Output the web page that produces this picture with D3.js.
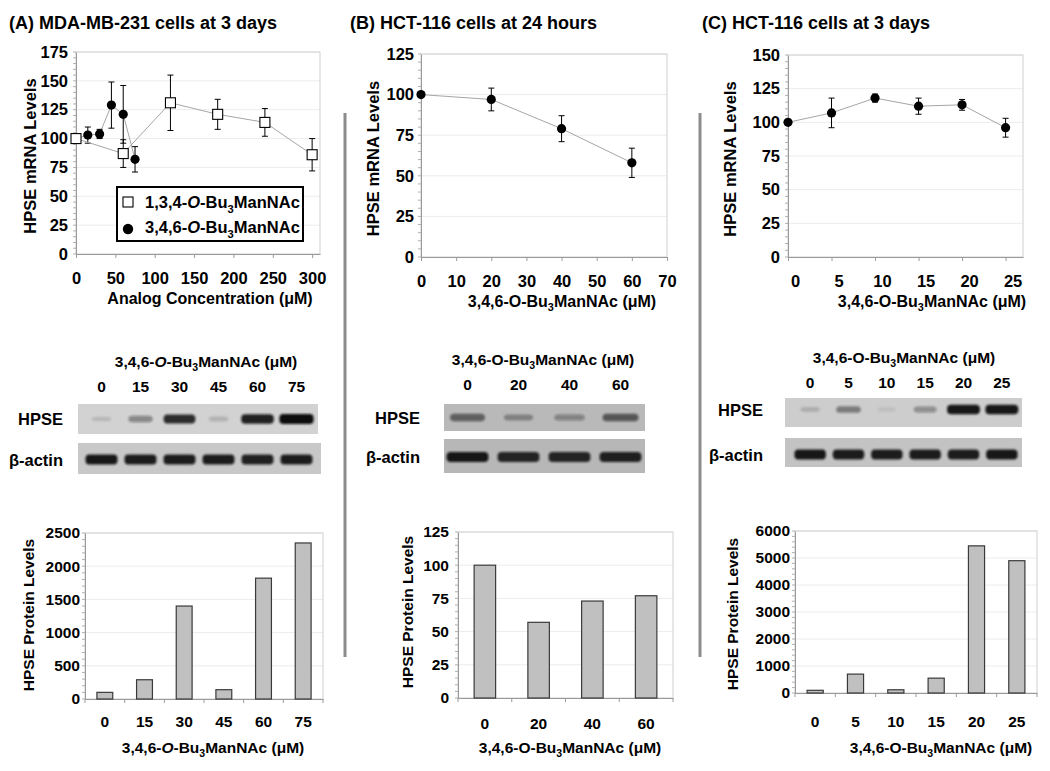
<!DOCTYPE html>
<html><head><meta charset="utf-8">
<script src="https://cdn.jsdelivr.net/npm/d3@7"></script>
<style>
body{margin:0;background:#fff}
text{font-family:"Liberation Sans",Arial,Helvetica,sans-serif;font-weight:bold;fill:#000}
</style>
</head><body>
<svg id="c" width="1050" height="771"></svg>
<script>
// ---------------- DATA ----------------
// (A) mRNA, 1,3,4-O-Bu3ManNAc
const mrnaA134_x = [0, 60, 120, 180, 240, 300];
const mrnaA134_y = [100, 87, 131, 121, 114, 86];
const mrnaA134_err = [0, 12, 24, 13, 12, 14];
// (A) mRNA, 3,4,6-O-Bu3ManNAc
const mrnaA346_x = [0, 15, 30, 45, 60, 75];
const mrnaA346_y = [100, 103, 104, 129, 121, 82];
const mrnaA346_err = [0, 7, 4, 20, 25, 11];
// (B) mRNA
const mrnaB_x = [0, 20, 40, 60];
const mrnaB_y = [100, 97, 79, 58];
const mrnaB_err = [0, 7, 8, 9];
// (C) mRNA
const mrnaC_x = [0, 5, 10, 15, 20, 25];
const mrnaC_y = [100, 107, 118, 112, 113, 96];
const mrnaC_err = [0, 11, 3, 6, 4, 7];

// protein bar charts
const protA_cat = ["0", "15", "30", "45", "60", "75"];
const protA_val = [100, 290, 1400, 140, 1820, 2350];
const protB_cat = ["0", "20", "40", "60"];
const protB_val = [100, 57, 73, 77];
const protC_cat = ["0", "5", "10", "15", "20", "25"];
const protC_val = [100, 700, 120, 550, 5450, 4900];

// western blot band intensities (0..1)
const blotA_hpse = [0.12, 0.4, 0.85, 0.15, 0.9, 1.0];
const blotA_actin = [0.95, 0.92, 0.92, 0.92, 0.9, 0.92];
const blotB_hpse = [0.55, 0.3, 0.35, 0.6];
const blotB_actin = [0.95, 0.88, 0.88, 0.9];
const blotC_hpse = [0.15, 0.45, 0.07, 0.35, 0.95, 0.95];
const blotC_actin = [0.95, 0.92, 0.92, 0.92, 0.92, 0.95];

// tick values
const ticksA_x = [0, 50, 100, 150, 200, 250, 300];
const ticksA_y = [0, 25, 50, 75, 100, 125, 150, 175];
const ticksB_x = [0, 10, 20, 30, 40, 50, 60, 70];
const ticksB_y = [0, 25, 50, 75, 100, 125];
const ticksC_x = [0, 5, 10, 15, 20, 25];
const ticksC_y = [0, 25, 50, 75, 100, 125, 150];
const ticksPA_y = [0, 500, 1000, 1500, 2000, 2500];
const ticksPB_y = [0, 25, 50, 75, 100, 125];
const ticksPC_y = [0, 1000, 2000, 3000, 4000, 5000, 6000];

// ---------------- DRAWING ----------------
const svg = d3.select("#c");
const defs = svg.append("defs");
defs.append("filter").attr("id", "blur").attr("x", "-30%").attr("y", "-60%").attr("width", "160%").attr("height", "220%")
  .append("feGaussianBlur").attr("stdDeviation", 1.3);

function bu3(t, fs, prefix, italicO, suffix) {
  t.append("tspan").text(prefix);
  t.append("tspan").attr("font-style", italicO ? "italic" : null).text("O");
  t.append("tspan").text("-Bu");
  t.append("tspan").attr("dy", fs * 0.28).attr("font-size", fs * 0.68).text("3");
  t.append("tspan").attr("dy", -fs * 0.28).text("ManNAc" + suffix);
}

function title(x, y, s) {
  svg.append("text").attr("x", x).attr("y", y).attr("font-size", 18).text(s);
}

function rotTitle(cx, cy, fs, s) {
  svg.append("text").attr("transform", `translate(${cx},${cy}) rotate(-90)`)
    .attr("text-anchor", "middle").attr("dy", "0.35em").attr("font-size", fs).text(s);
}

function scatterPanel(c) {
  const x = d3.scaleLinear(c.xDom, [c.x0, c.x1]);
  const y = d3.scaleLinear(c.yDom, [c.y1, c.y0]);
  const g = svg.append("g");
  g.selectAll(".grid").data(c.yTicks.filter(d => d > c.yDom[0])).join("line")
    .attr("x1", c.x0).attr("x2", c.x1).attr("y1", d => y(d)).attr("y2", d => y(d))
    .attr("stroke", "#ececec");
  g.append("rect").attr("x", c.x0).attr("y", c.y0).attr("width", c.x1 - c.x0).attr("height", c.y1 - c.y0)
    .attr("fill", "none").attr("stroke", "#cfcfcf");
  g.selectAll(".minor").data(d3.range(c.yDom[0], c.yDom[1] + 0.001, c.minor)).join("line")
    .attr("x1", c.x0 - 3).attr("x2", c.x0).attr("y1", d => y(d)).attr("y2", d => y(d))
    .attr("stroke", "#b0b0b0");
  const ya = g.append("g").attr("transform", `translate(${c.x0},0)`)
    .call(d3.axisLeft(y).tickValues(c.yTicks).tickSize(0).tickSizeOuter(0).tickPadding(c.yPad).tickFormat(d3.format("d")));
  ya.attr("font-size", 16.5).attr("font-family", null);
  ya.select(".domain").attr("stroke", "#9a9a9a");
  const xa = g.append("g").attr("transform", `translate(0,${c.y1})`)
    .call(d3.axisBottom(x).tickValues(c.xTicks).tickSize(4).tickSizeOuter(0).tickPadding(14).tickFormat(d3.format("d")));
  xa.attr("font-size", 16.5).attr("font-family", null);
  xa.select(".domain").attr("stroke", "#9a9a9a");
  xa.selectAll(".tick line").attr("stroke", "#9a9a9a");
  if (c.xLabDx) xa.selectAll("text").attr("dx", c.xLabDx);

  c.series.forEach(s => {
    const pts = s.x.map((d, i) => ({x: d, y: s.y[i], e: s.err[i]}));
    g.append("path").datum(pts).attr("fill", "none").attr("stroke", "#a6a6a6").attr("stroke-width", 1)
      .attr("d", d3.line().x(d => x(d.x)).y(d => y(d.y)));
    const eb = g.append("g").attr("stroke", "#000").attr("stroke-width", 1);
    pts.filter(d => d.e > 0).forEach(d => {
      eb.append("line").attr("x1", x(d.x)).attr("x2", x(d.x)).attr("y1", y(d.y - d.e)).attr("y2", y(d.y + d.e));
      [d.y - d.e, d.y + d.e].forEach(v => eb.append("line").attr("x1", x(d.x) - 3).attr("x2", x(d.x) + 3).attr("y1", y(v)).attr("y2", y(v)));
    });
    if (s.shape === "square") {
      g.selectAll(null).data(pts).join("rect")
        .attr("x", d => x(d.x) - 5).attr("y", d => y(d.y) - 5).attr("width", 10).attr("height", 10)
        .attr("fill", "#fff").attr("stroke", "#000").attr("stroke-width", 1.1);
    } else {
      g.selectAll(null).data(pts).join("circle")
        .attr("cx", d => x(d.x)).attr("cy", d => y(d.y)).attr("r", 4.6).attr("fill", "#000");
    }
  });
  rotTitle(c.yTitleX, (c.y0 + c.y1) / 2 + 3, 16.5, "HPSE mRNA Levels");
  const t = svg.append("text").attr("x", c.xTitleX).attr("y", c.y1 + 50).attr("text-anchor", "middle").attr("font-size", 16);
  if (c.xTitle) t.text(c.xTitle); else bu3(t, 16, "3,4,6-", false, " (μM)");
  return {x, y, g};
}

function barPanel(c) {
  const n = c.cats.length;
  const x = d3.scaleBand(c.cats, [c.x0, c.x1]).paddingInner(0.6).paddingOuter(0.3);
  const y = d3.scaleLinear(c.yDom, [c.y1, c.y0]);
  const g = svg.append("g");
  g.selectAll(".grid").data(c.yTicks.filter(d => d > 0)).join("line")
    .attr("x1", c.x0).attr("x2", c.x1).attr("y1", d => y(d)).attr("y2", d => y(d)).attr("stroke", "#ececec");
  g.append("rect").attr("x", c.x0).attr("y", c.y0).attr("width", c.x1 - c.x0).attr("height", c.y1 - c.y0)
    .attr("fill", "none").attr("stroke", "#cfcfcf");
  g.selectAll(".minor").data(d3.range(0, c.yDom[1] + 0.001, c.minor)).join("line")
    .attr("x1", c.x0 - 3).attr("x2", c.x0).attr("y1", d => y(d)).attr("y2", d => y(d)).attr("stroke", "#b0b0b0");
  const ya = g.append("g").attr("transform", `translate(${c.x0},0)`)
    .call(d3.axisLeft(y).tickValues(c.yTicks).tickSize(0).tickSizeOuter(0).tickPadding(c.yPad).tickFormat(d3.format("d")));
  ya.attr("font-size", 15.5).attr("font-family", null);
  ya.select(".domain").attr("stroke", "#9a9a9a");
  const xa = g.append("g").attr("transform", `translate(0,${c.y1})`)
    .call(d3.axisBottom(x).tickSize(0).tickSizeOuter(0).tickPadding(c.xPad));
  xa.attr("font-size", 15.5).attr("font-family", null);
  xa.select(".domain").attr("stroke", "#9a9a9a");
  g.selectAll(".btick").data(d3.range(n + 1)).join("line")
    .attr("x1", i => c.x0 + i * x.step()).attr("x2", i => c.x0 + i * x.step())
    .attr("y1", c.y1).attr("y2", c.y1 + 4).attr("stroke", "#9a9a9a");
  g.selectAll(".bar").data(c.vals).join("rect")
    .attr("x", (d, i) => x(c.cats[i])).attr("width", x.bandwidth())
    .attr("y", d => y(d)).attr("height", d => y(0) - y(d))
    .attr("fill", "#c0c0c0").attr("stroke", "#3a3a3a").attr("stroke-width", 1.2);
  rotTitle(c.yTitleX, c.yTitleY, 15.5, "HPSE Protein Levels");
  const t = svg.append("text").attr("x", c.xTitleX).attr("y", 753).attr("text-anchor", "middle").attr("font-size", 15.5);
  bu3(t, 15.5, "3,4,6-", c.italic, " (μM)");
}

function blotPanel(c) {
  const lane = d3.scaleBand(c.cats, [c.l0, c.l1]);
  const g = svg.append("g");
  const t = g.append("text").attr("x", c.titleX).attr("y", c.titleY).attr("text-anchor", "middle").attr("font-size", 15.5);
  bu3(t, 15.5, "3,4,6-", c.italic, " (μM)");
  g.selectAll(".lab").data(c.cats).join("text")
    .attr("x", d => lane(d) + lane.bandwidth() / 2).attr("y", c.titleY + 25)
    .attr("text-anchor", "middle").attr("font-size", 15.5).text(d => d);
  [[c.hp, c.hpse, c.bgH, "HPSE"], [c.ac, c.actin, c.bgA, "β-actin"]].forEach(([r, vals, bg, name], k) => {
    g.append("rect").attr("x", r[0]).attr("y", r[1]).attr("width", r[2] - r[0]).attr("height", r[3] - r[1]).attr("fill", bg);
    const cy = (r[1] + r[3]) / 2 + r[4];
    g.append("g").attr("filter", "url(#blur)").selectAll("rect").data(vals).join("rect")
      .attr("x", (d, i) => lane(c.cats[i]) + lane.bandwidth() / 2 - lane.bandwidth() * (k ? 0.41 : 0.22 + 0.22 * d))
      .attr("width", (d, i) => lane.bandwidth() * (k ? 0.82 : 0.44 + 0.44 * d))
      .attr("y", d => cy - (k ? 5 : 2 + 3 * d)).attr("height", d => k ? 10 : 4 + 6 * d)
      .attr("rx", 4).attr("fill", "#111").attr("opacity", d => d);
    g.append("text").attr("x", c.labRight).attr("y", cy + 6).attr("text-anchor", "end").attr("font-size", 16.5).text(name);
  });
}

// Titles
title(9, 29, "(A) MDA-MB-231 cells at 3 days");
title(350, 29, "(B) HCT-116 cells at 24 hours");
title(702, 29, "(C) HCT-116 cells at 3 days");

// Separators
svg.selectAll(".sep").data([345, 700]).join("line")
  .attr("x1", d => d).attr("x2", d => d).attr("y1", 113).attr("y2", 657)
  .attr("stroke", "#8c8c8c").attr("stroke-width", 3);

// (A) mRNA
scatterPanel({x0: 76, x1: 320, y0: 52, y1: 254, xDom: [0, 310], yDom: [0, 175],
  xTicks: ticksA_x, yTicks: ticksA_y, minor: 5, yPad: 8, yTitleX: 30, xTitleX: 210,
  xTitle: "Analog Concentration (μM)",
  series: [
    {x: mrnaA346_x, y: mrnaA346_y, err: mrnaA346_err, shape: "circle"},
    {x: mrnaA134_x, y: mrnaA134_y, err: mrnaA134_err, shape: "square"}
  ]});
// legend
const lg = svg.append("g");
lg.append("rect").attr("x", 117).attr("y", 187).attr("width", 186).attr("height", 54)
  .attr("fill", "#fff").attr("stroke", "#000").attr("stroke-width", 2);
lg.append("rect").attr("x", 123).attr("y", 197).attr("width", 10).attr("height", 10)
  .attr("fill", "#fff").attr("stroke", "#000").attr("stroke-width", 1.1);
lg.append("circle").attr("cx", 128).attr("cy", 229).attr("r", 5.2).attr("fill", "#000");
bu3(lg.append("text").attr("x", 145).attr("y", 208).attr("font-size", 16.5), 16.5, "1,3,4-", true, "");
bu3(lg.append("text").attr("x", 145).attr("y", 233).attr("font-size", 16.5), 16.5, "3,4,6-", true, "");

// (B) mRNA
scatterPanel({x0: 421, x1: 667, y0: 54, y1: 257, xDom: [0, 70], yDom: [0, 125],
  xTicks: ticksB_x, yTicks: ticksB_y, minor: 5, yPad: 7, yTitleX: 373, xTitleX: 562,
  series: [{x: mrnaB_x, y: mrnaB_y, err: mrnaB_err, shape: "circle"}]});

// (C) mRNA
scatterPanel({x0: 788, x1: 1023, y0: 55, y1: 257, xDom: [0, 27], yDom: [0, 150],
  xTicks: ticksC_x, yTicks: ticksC_y, minor: 5, yPad: 8, yTitleX: 730, xTitleX: 932, xLabDx: 7,
  series: [{x: mrnaC_x, y: mrnaC_y, err: mrnaC_err, shape: "circle"}]});

// Blots
blotPanel({cats: protA_cat, l0: 82, l1: 316, titleX: 206, titleY: 367, italic: true,
  hp: [78, 404, 318, 434, 0], ac: [78, 443, 321, 474, 1], bgH: "#d2d2d2", bgA: "#c8c8c8",
  hpse: blotA_hpse, actin: blotA_actin, labRight: 63});
blotPanel({cats: protB_cat, l0: 442, l1: 646, titleX: 543, titleY: 365, italic: false,
  hp: [444, 404, 645, 431, 0], ac: [444, 439, 645, 473, 1], bgH: "#b9b9b9", bgA: "#b7b7b7",
  hpse: blotB_hpse, actin: blotB_actin, labRight: 420});
blotPanel({cats: protC_cat, l0: 791, l1: 1021, titleX: 904, titleY: 363, italic: false,
  hp: [785, 398, 1022, 427, -3], ac: [785, 438, 1022, 467, 2], bgH: "#cdcdcd", bgA: "#c3c3c3",
  hpse: blotC_hpse, actin: blotC_actin, labRight: 763});

// Protein bars
barPanel({cats: protA_cat, vals: protA_val, x0: 85, x1: 323, y0: 533, y1: 699, yDom: [0, 2500],
  yTicks: ticksPA_y, minor: 100, yPad: 5, xPad: 17, yTitleX: 29, yTitleY: 615, xTitleX: 213, italic: true});
barPanel({cats: protB_cat, vals: protB_val, x0: 458, x1: 673, y0: 532, y1: 698, yDom: [0, 125],
  yTicks: ticksPB_y, minor: 5, yPad: 9, xPad: 20, yTitleX: 408, yTitleY: 612, xTitleX: 570, italic: false});
barPanel({cats: protC_cat, vals: protC_val, x0: 795, x1: 1037, y0: 531, y1: 693, yDom: [0, 6000],
  yTicks: ticksPC_y, minor: 200, yPad: 5, xPad: 23, yTitleX: 733, yTitleY: 614, xTitleX: 941, italic: false});
</script>
</body></html>
